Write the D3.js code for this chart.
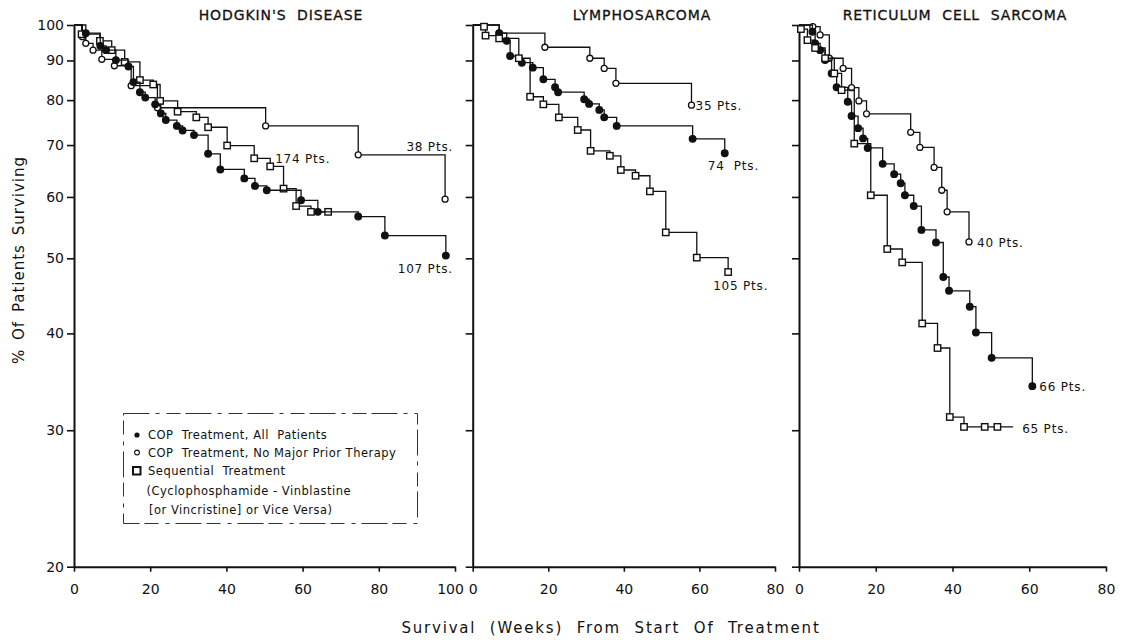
<!DOCTYPE html>
<html>
<head>
<meta charset="utf-8">
<script src="https://cdnjs.cloudflare.com/ajax/libs/d3/7.8.5/d3.min.js"></script>
<style>
body { margin: 0; background: #fff; }
svg { display: block; }
text { font-family: 'DejaVu Sans', sans-serif; fill: #111; }
</style>
</head>
<body>
<script>
// panel titles and series labels
var panelTitles = ["HODGKIN'S  DISEASE", "LYMPHOSARCOMA", "RETICULUM  CELL  SARCOMA"];
var yTicks = [20, 30, 40, 50, 60, 70, 80, 90, 100];
var xTicksHodg = [0, 20, 40, 60, 80, 100];
var xTicksOther = [0, 20, 40, 60, 80];

// [week, % surviving]
var hodgFilled = [[3.1, 97.6], [6.9, 94.0], [8.4, 92.8], [11.0, 90.1], [14.3, 88.4], [15.6, 84.4], [17.3, 81.9],
    [18.7, 80.6], [21.3, 79.0], [22.8, 76.9], [24.1, 75.4], [27.0, 74.1], [28.5, 73.1], [31.5, 72.1], [35.2, 68.2],
    [38.4, 65.1], [44.7, 63.4], [47.5, 62.0], [50.6, 61.2], [59.6, 59.4], [64.0, 57.4], [74.6, 56.6], [81.6, 53.5],
    [97.6, 50.4]];
var hodgOpen = [[2.2, 96.6], [3.1, 94.7], [5.0, 92.8], [7.3, 90.3], [10.6, 88.6], [15.0, 83.5], [21.9, 78.2],
    [50.3, 74.1], [74.6, 68.0], [97.4, 59.6]];
var hodgSeq = [[2.0, 97.3], [6.8, 95.4], [9.9, 92.8], [13.3, 89.6], [17.3, 84.9], [20.8, 83.8], [22.6, 79.8],
    [27.2, 77.3], [32.1, 76.0], [35.2, 73.8], [40.2, 69.9], [47.3, 67.3], [51.5, 65.7], [55.0, 61.5], [58.3, 58.4],
    [62.2, 57.4], [66.7, 57.4]];

var lymphOpen = [[7.0, 97.6], [19.1, 93.6], [31.0, 90.6], [34.8, 87.9], [37.9, 84.1], [57.9, 78.8]];
var lymphFilled = [[7.0, 97.6], [9.0, 95.4], [9.9, 91.2], [13.0, 89.4], [15.9, 88.1], [18.7, 85.1], [21.8, 83.1],
    [22.6, 81.9], [29.5, 80.2], [30.8, 79.1], [33.5, 77.7], [34.8, 76.0], [38.1, 74.1], [58.2, 71.3], [66.7, 68.3]];
var lymphSeq = [[3.0, 99.5], [3.4, 96.9], [7.0, 96.1], [12.2, 90.6], [15.2, 80.8], [18.7, 79.0], [22.8, 76.0],
    [27.8, 73.2], [31.2, 68.8], [36.3, 67.8], [39.2, 65.0], [43.1, 63.9], [46.9, 61.0], [51.1, 54.0], [59.3, 50.1],
    [67.6, 48.0]];

var retOpen = [[3.6, 99.5], [5.5, 97.1], [7.9, 90.6], [11.5, 87.9], [13.7, 83.0], [15.6, 79.8], [17.6, 76.8],
    [29.1, 72.7], [31.5, 69.5], [35.2, 65.5], [37.2, 61.2], [38.6, 57.4], [44.3, 52.5]];
var retFilled = [[3.5, 98.0], [4.2, 94.7], [5.5, 92.8], [6.8, 90.1], [8.5, 86.6], [9.8, 83.1], [12.7, 79.6],
    [13.7, 76.3], [15.4, 73.6], [16.7, 71.4], [17.9, 69.4], [21.8, 66.2], [24.8, 64.2], [26.5, 62.5], [27.6, 60.3],
    [29.9, 58.4], [31.9, 54.4], [35.7, 52.4], [37.6, 47.3], [39.1, 45.4], [44.5, 43.3], [46.1, 40.1], [50.2, 37.2],
    [60.8, 34.2]];
var retSeq = [[0.5, 98.8], [2.2, 95.6], [4.2, 93.4], [6.8, 90.6], [9.2, 86.6], [11.1, 82.4], [14.4, 70.3],
    [18.7, 60.3], [23.0, 51.4], [26.9, 49.4], [32.1, 41.2], [36.1, 38.3], [39.3, 31.2], [43.0, 30.3], [48.4, 30.3],
    [51.7, 30.3]];
var retSeqLineEnd = 55.8; // line runs on past the last mark

var legendLines = ["COP  Treatment, All  Patients", "COP  Treatment, No Major Prior Therapy", "Sequential  Treatment",
    "(Cyclophosphamide - Vinblastine", "[or Vincristine] or Vice Versa)"];

var W = 1126, H = 640;
var svg = d3.select('body').append('svg').attr('width', W).attr('height', H);

var yScale = d3.scaleLog().domain([20, 100]).range([566.7, 25]);

var panels = [
    {title: panelTitles[0], titleX: 281, xScale: d3.scaleLinear().domain([0, 100]).range([74, 455]), xTicks: xTicksHodg, yLabels: true,
        series: [
            {pts: hodgOpen, mark: 'open', label: '38 Pts.', anchor: 'end', dx: 8, dy: -48},
            {pts: hodgSeq, mark: 'square', label: '174 Pts.', anchor: 'start', dx: -53, dy: -49},
            {pts: hodgFilled, mark: 'filled', label: '107 Pts.', anchor: 'end', dx: 7, dy: 17}
        ]},
    {title: panelTitles[1], titleX: 642, xScale: d3.scaleLinear().domain([0, 80]).range([472.7, 775]), xTicks: xTicksOther, yLabels: false,
        series: [
            {pts: lymphOpen, mark: 'open', label: '35 Pts.', anchor: 'start', dx: 4, dy: 5},
            {pts: lymphFilled, mark: 'filled', label: '74  Pts.', anchor: 'start', dx: -17, dy: 17},
            {pts: lymphSeq, mark: 'square', label: '105 Pts.', anchor: 'start', dx: -15, dy: 18}
        ]},
    {title: panelTitles[2], titleX: 955, xScale: d3.scaleLinear().domain([0, 80]).range([799, 1106]), xTicks: xTicksOther, yLabels: false,
        series: [
            {pts: retOpen, mark: 'open', label: '40 Pts.', anchor: 'start', dx: 8, dy: 5},
            {pts: retFilled, mark: 'filled', label: '66 Pts.', anchor: 'start', dx: 7, dy: 5},
            {pts: retSeq, mark: 'square', label: '65 Pts.', anchor: 'start', dx: 9, dy: 6, lineEnd: retSeqLineEnd}
        ]}
];

panels.forEach(function (p, pi) {
    var x = p.xScale;
    var g = svg.append('g');

    // title
    g.append('text')
        .attr('x', p.titleX).attr('y', 20)
        .attr('text-anchor', 'middle')
        .style('font-size', '14px')
        .style('letter-spacing', '0.9px')
        .style('white-space', 'pre')
        .attr('stroke', '#111')
        .attr('stroke-width', 0.3)
        .text(p.title);

    // Y-axis
    var yAxis = d3.axisLeft(yScale)
        .tickValues(yTicks)
        .tickSize(7)
        .tickSizeOuter(0)
        .tickPadding(3)
        .tickFormat(p.yLabels ? d3.format('d') : '');
    var ya = g.append('g')
        .attr('transform', 'translate(' + x.range()[0] + ',0)')
        .call(yAxis);

    // X-axis
    var xAxis = d3.axisBottom(x)
        .tickValues(p.xTicks)
        .tickSize(5)
        .tickSizeOuter(0)
        .tickPadding(12)
        .tickFormat(d3.format('d'));
    var xa = g.append('g')
        .attr('transform', 'translate(0,' + yScale.range()[0] + ')')
        .call(xAxis);

    [ya, xa].forEach(function (a) {
        a.select('.domain').attr('stroke', '#111').attr('stroke-width', 2);
        a.selectAll('.tick line').attr('stroke', '#111').attr('stroke-width', 1.6);
        a.selectAll('.tick text').style('font-size', '14px').style('font-family', "'DejaVu Sans', sans-serif").attr('fill', '#111');
    });
    // keep "100" clear of the next panel's "0"
    if (pi === 0) {
        xa.selectAll('.tick text').filter(function (d) { return d === 100; }).attr('dx', -5);
    }

    var line = d3.line()
        .x(function (d) { return x(d[0]); })
        .y(function (d) { return yScale(d[1]); })
        .curve(d3.curveStepAfter);

    p.series.forEach(function (s) {
        var pts = [[0, 100]].concat(s.pts);
        var last = s.pts[s.pts.length - 1];
        if (s.lineEnd) pts.push([s.lineEnd, last[1]]);

        g.append('path')
            .attr('d', line(pts))
            .attr('fill', 'none')
            .attr('stroke', '#111')
            .attr('stroke-width', 1.3);

        var marks = g.selectAll(null).data(s.pts);
        if (s.mark === 'square') {
            marks.enter().append('rect')
                .attr('x', function (d) { return x(d[0]) - 3.2; })
                .attr('y', function (d) { return yScale(d[1]) - 3.2; })
                .attr('width', 6.4).attr('height', 6.4)
                .attr('fill', '#fff').attr('stroke', '#111').attr('stroke-width', 1.4);
        } else {
            marks.enter().append('circle')
                .attr('cx', function (d) { return x(d[0]); })
                .attr('cy', function (d) { return yScale(d[1]); })
                .attr('r', s.mark === 'filled' ? 3.3 : 3)
                .attr('fill', s.mark === 'filled' ? '#111' : '#fff')
                .attr('stroke', '#111').attr('stroke-width', 1.3);
        }

        var endX = x(s.lineEnd ? s.lineEnd : last[0]);
        g.append('text')
            .attr('x', endX + s.dx)
            .attr('y', yScale(last[1]) + s.dy)
            .attr('text-anchor', s.anchor)
            .style('font-size', '12px')
            .style('letter-spacing', '0.8px')
            .style('white-space', 'pre')
            .text(s.label);
    });
});

// axis titles
svg.append('text')
    .attr('transform', 'translate(24,260) rotate(-90)')
    .attr('text-anchor', 'middle')
    .style('font-size', '15px')
    .style('letter-spacing', '1px')
    .style('word-spacing', '3px')
    .text('% Of Patients Surviving');

svg.append('text')
    .attr('x', 611).attr('y', 633)
    .attr('text-anchor', 'middle')
    .style('font-size', '15px')
    .style('letter-spacing', '1.8px')
    .style('word-spacing', '7px')
    .text('Survival (Weeks) From Start Of Treatment');

// legend
var lg = svg.append('g');
lg.append('rect')
    .attr('x', 123.5).attr('y', 413.5)
    .attr('width', 294).attr('height', 110)
    .attr('fill', 'none')
    .attr('stroke', '#333')
    .attr('stroke-width', 1)
    .attr('stroke-dasharray', '26,6,4,7,14,5');

var legendY = [439, 456.5, 475, 494.5, 513.5];
var legendX = [148, 148, 148, 146.5, 149];
lg.selectAll('text.leg')
    .data(legendLines)
    .enter().append('text')
    .attr('class', 'leg')
    .attr('x', function (d, i) { return legendX[i]; })
    .attr('y', function (d, i) { return legendY[i]; })
    .style('font-size', '11.5px')
    .style('letter-spacing', '0.5px')
    .style('white-space', 'pre')
    .text(function (d) { return d; });

lg.append('circle').attr('cx', 137).attr('cy', 435).attr('r', 2.6).attr('fill', '#111');
lg.append('circle').attr('cx', 137).attr('cy', 452.5).attr('r', 2.4).attr('fill', '#fff').attr('stroke', '#111').attr('stroke-width', 1.1);
lg.append('rect').attr('x', 133).attr('y', 467).attr('width', 7.5).attr('height', 7.5).attr('fill', '#fff').attr('stroke', '#111').attr('stroke-width', 2);
</script>
</body>
</html>
